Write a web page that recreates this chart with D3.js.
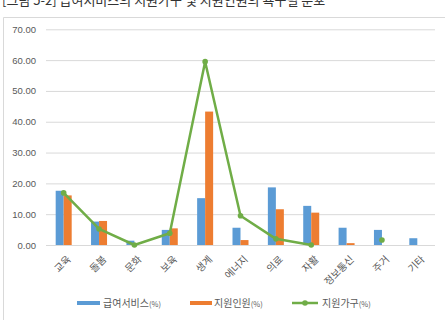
<!DOCTYPE html>
<html>
<head>
<meta charset="utf-8">
<script src="https://cdn.jsdelivr.net/npm/d3@7"></script>
<style>
  body { margin: 0; background: #fff; }
  svg { display: block; font-family: "Noto Sans CJK KR", "Noto Sans", sans-serif; }
</style>
</head>
<body>
<div id="chart"></div>
<script>
const categories = ['교육', '돌봄', '문화', '보육', '생계', '에너지', '의료', '자활', '정보통신', '주거', '기타'];
const service = [17.6, 7.6, 1.4, 4.9, 15.2, 5.6, 18.7, 12.7, 5.6, 4.9, 2.2];
const people = [16.1, 7.8, 0, 5.4, 43.3, 1.6, 11.6, 10.5, 0.6, 0, 0];
const household = [16.9, 5.2, 0, 3.8, 59.5, 9.5, 2.0, 0, null, 1.6, null];
const yTicks = [0, 10, 20, 30, 40, 50, 60, 70];
const seriesNames = ['급여서비스', '지원인원', '지원가구'];

const W = 445, H = 320;
const blue = '#5b9bd5', orange = '#ed7d31', green = '#70ad47';

const svg = d3.select('#chart').append('svg')
    .attr('width', W)
    .attr('height', H);

// title, cut off at the top edge
svg.append('text')
    .attr('x', 2)
    .attr('y', 5)
    .attr('font-size', 13)
    .attr('fill', '#333')
    .text('[그림 5-2] 급여서비스의 지원가구 및 지원인원의 욕구별 분포');

// chart border
svg.append('path')
    .attr('d', `M3.5,${H} V17.5 H${W}`)
    .attr('fill', 'none')
    .attr('stroke', '#d9d9d9');

const x = d3.scaleBand().domain(categories).range([46, 435]);
const y = d3.scaleLinear().domain([0, 70]).range([245, 29.3]);
const bw = 8;

const yAxis = d3.axisLeft(y)
    .tickValues(yTicks)
    .tickFormat(d3.format('.2f'))
    .tickSize(-(435 - 46))
    .tickPadding(10);

svg.append('g')
    .attr('transform', 'translate(46,0)')
    .call(yAxis)
    .call(g => g.select('.domain').remove())
    .call(g => g.selectAll('line').attr('stroke', '#d9d9d9'))
    .call(g => g.selectAll('text').attr('fill', '#595959').attr('font-size', 9.5)
        .attr('font-family', '"Liberation Sans", Arial, sans-serif'));

// x labels
svg.append('g').selectAll('text')
    .data(categories)
    .enter().append('text')
    .attr('transform', d => `translate(${x(d) + x.bandwidth() / 2 + 3},255) rotate(-45)`)
    .attr('text-anchor', 'end')
    .attr('dy', '0.7em')
    .attr('font-size', 10)
    .attr('fill', '#595959')
    .text(d => d);

// bars
svg.append('g').selectAll('rect')
    .data(categories)
    .enter().append('rect')
    .attr('x', d => x(d) + x.bandwidth() / 2 - bw)
    .attr('y', (d, i) => y(service[i]))
    .attr('width', bw)
    .attr('height', (d, i) => y(0) - y(service[i]))
    .attr('fill', blue);

svg.append('g').selectAll('rect')
    .data(categories)
    .enter().append('rect')
    .attr('x', d => x(d) + x.bandwidth() / 2)
    .attr('y', (d, i) => y(people[i]))
    .attr('width', bw)
    .attr('height', (d, i) => y(0) - y(people[i]))
    .attr('fill', orange);

// line with gaps
const pts = categories.map((d, i) => ({ c: d, v: household[i] }));
const line = d3.line()
    .defined(d => d.v !== null)
    .x(d => x(d.c) + x.bandwidth() / 2)
    .y(d => y(d.v));

svg.append('path')
    .datum(pts)
    .attr('d', line)
    .attr('fill', 'none')
    .attr('stroke', green)
    .attr('stroke-width', 2.5)
    .attr('stroke-linejoin', 'round');

svg.append('g').selectAll('circle')
    .data(pts.filter(d => d.v !== null))
    .enter().append('circle')
    .attr('cx', d => x(d.c) + x.bandwidth() / 2)
    .attr('cy', d => y(d.v))
    .attr('r', 2.8)
    .attr('fill', green);

// legend
const legend = svg.append('g').attr('transform', 'translate(0,303)');
const lx = [77, 190, 292];
legend.append('rect').attr('x', lx[0]).attr('y', -2).attr('width', 23).attr('height', 4).attr('fill', blue);
legend.append('rect').attr('x', lx[1]).attr('y', -2).attr('width', 22).attr('height', 4).attr('fill', orange);
legend.append('line').attr('x1', lx[2]).attr('x2', lx[2] + 26).attr('y1', 0).attr('y2', 0)
    .attr('stroke', green).attr('stroke-width', 2.5);
legend.append('circle').attr('cx', lx[2] + 13).attr('cy', 0).attr('r', 2.8).attr('fill', green);

const tx = [103, 214, 322];
seriesNames.forEach((name, i) => {
    const t = legend.append('text')
        .attr('x', tx[i])
        .attr('y', 4)
        .attr('font-size', 10)
        .attr('fill', '#595959');
    t.append('tspan').text(name);
    t.append('tspan').attr('font-size', 7.5).text('(%)');
});
</script>
</body>
</html>
